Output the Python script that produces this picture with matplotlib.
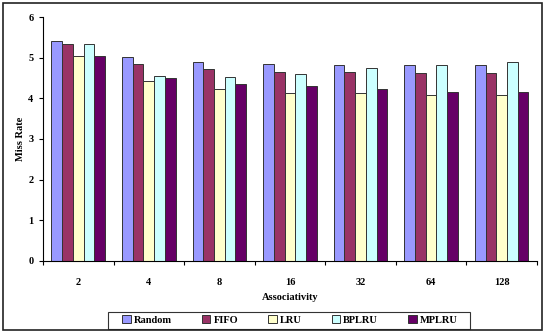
import numpy as np
import matplotlib
matplotlib.use("Agg")
import matplotlib.pyplot as plt
from matplotlib.patches import Rectangle

plt.rcParams['font.family'] = ['Liberation Serif', 'DejaVu Serif']
plt.rcParams['font.weight'] = 'bold'

assoc = ['2', '4', '8', '16', '32', '64', '128']
policies = ['Random', 'FIFO', 'LRU', 'BPLRU', 'MPLRU']
colors = ['#9999FF', '#993366', '#FFFFCC', '#CCFFFF', '#660066']

random_mr = [5.41, 5.01, 4.90, 4.85, 4.83, 4.83, 4.82]
fifo_mr = [5.33, 4.85, 4.73, 4.65, 4.64, 4.62, 4.63]
lru_mr = [5.03, 4.43, 4.23, 4.14, 4.12, 4.09, 4.09]
bplru_mr = [5.33, 4.56, 4.52, 4.61, 4.75, 4.83, 4.90]
mplru_mr = [5.03, 4.50, 4.35, 4.30, 4.23, 4.16, 4.16]
series = [random_mr, fifo_mr, lru_mr, bplru_mr, mplru_mr]

W, H = 544, 334
fig = plt.figure(figsize=(W / 100, H / 100), dpi=100)
ax = fig.add_axes([0.079, 0.219, 0.908, 0.730])

x = np.arange(len(assoc))
w = 0.152
for i, (name, vals) in enumerate(zip(policies, series)):
    ax.bar(x + (i - 2) * w, vals, w, color=colors[i], edgecolor='#333333',
           linewidth=0.7, label=name, zorder=2)

ax.set_xlim(-0.5, len(assoc) - 0.5)
ax.set_ylim(0, 6)
ax.set_yticks(range(7))
ax.set_xticks(np.arange(len(assoc) + 1) - 0.5)
ax.set_xticklabels([])
ax.set_xticks(x, minor=True)
ax.set_xticklabels(assoc, minor=True)
ax.tick_params(axis='x', which='minor', length=0, pad=12, labelsize=7.5)
ax.tick_params(axis='x', which='major', length=3, direction='out', width=0.8)
ax.tick_params(axis='y', length=3, width=0.8, labelsize=7.5, pad=4)
for s in ['top', 'right']:
    ax.spines[s].set_visible(False)
for s in ['left', 'bottom']:
    ax.spines[s].set_linewidth(0.8)

ax.set_xlabel('Associativity', fontsize=7.5, fontweight='bold', labelpad=5)
ax.set_ylabel('Miss Rate', fontsize=7.5, fontweight='bold', labelpad=2)

leg = fig.legend(loc='center', bbox_to_anchor=(0.533, 0.042), ncol=5,
                 fontsize=7.5, frameon=False, handlelength=0.8,
                 handleheight=0.8, handletextpad=0.3, columnspacing=2.9)

# legend box and outer border, drawn in pixel positions of the figure
fig.patches.append(Rectangle((108 / W, 1 - 329 / H), 362 / W, 17 / H,
                             transform=fig.transFigure, fill=False,
                             edgecolor='#333333', linewidth=0.8))
fig.patches.append(Rectangle((0.006, 0.012), 0.990, 0.978, transform=fig.transFigure,
                             fill=False, edgecolor='#222222', linewidth=1.2))

fig.savefig('out.png', dpi=100)
